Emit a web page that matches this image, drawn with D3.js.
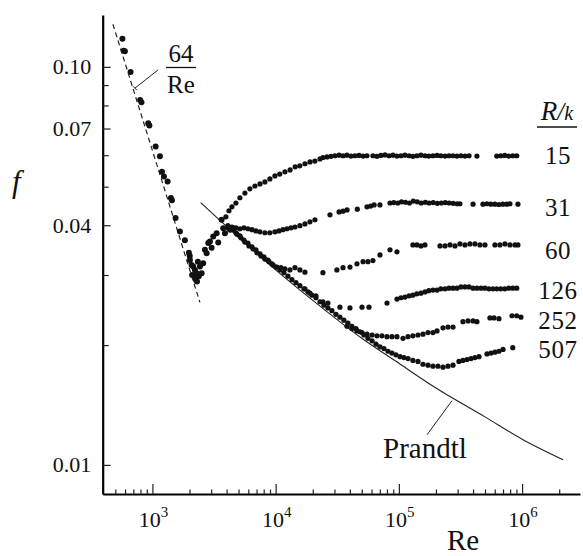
<!DOCTYPE html>
<html>
<head>
<meta charset="utf-8">
<script src="https://cdn.jsdelivr.net/npm/d3@7"></script>
<style>
  body { margin: 0; background: #fff; }
  svg text { font-family: "Liberation Serif", "Times New Roman", serif; fill: #111; }
</style>
</head>
<body>
<svg width="583" height="556"></svg>
<script>
// Nikuradse: friction factor f vs Re for rough pipes, R/k = 15 ... 507
// points are [Re, f]

const laminar = [[571,0.1176],[585,0.1097],[598,0.1095],[665,0.0971],[795,0.0826],[815,0.0815],
  [925,0.0722],[945,0.0712],[1062,0.0631],[1151,0.0596],[1195,0.0545],[1240,0.0530],[1328,0.0515],
  [1413,0.0468],[1440,0.0462],[1542,0.0417],[1672,0.0386],[1835,0.0367],[1977,0.0341],[2010,0.0335],
  [2080,0.0318],[2254,0.0294]];

const transition = [[2015,0.0327],[2100,0.0300],[2142,0.0315],[2213,0.0309],[2285,0.0303],[2300,0.0289],
  [2254,0.0292],[2339,0.0324],[2380,0.0298],[2430,0.0315],[2508,0.0303],[2582,0.0321],[2667,0.0347],
  [2755,0.0340],[2838,0.0361],[2929,0.0364],[3023,0.0351],[3115,0.0375],[3321,0.0382],[3420,0.0362],
  [3646,0.0413],[3755,0.0393],[3878,0.0382],[4256,0.0390],[4530,0.0393]];

const rk15 = [[3950,0.0420],[4180,0.0435],[4420,0.0445],[4760,0.0455],[5130,0.0469],[5630,0.0482],
  [6180,0.0494],[6790,0.0502],[7460,0.0508],[8180,0.0514],[8980,0.0523],[9870,0.0532],[10800,0.0538],
  [11900,0.0545],[13100,0.0551],[14400,0.0561],[15700,0.0564],[17300,0.0571],[19000,0.0577],
  [20800,0.0580],[22900,0.0587],[24200,0.0592],[26100,0.0594],[28100,0.0596],[30300,0.0598],
  [32700,0.0600],[35200,0.0598],[37900,0.0600],[40900,0.0597],[44000,0.0598],[47500,0.0599],
  [51200,0.0597],[55100,0.0598],[61600,0.0598],[66400,0.0596],[71500,0.0599],[77100,0.0601],
  [83100,0.0598],[89500,0.0600],[96500,0.0597],[104000,0.0598],[112000,0.0600],[121000,0.0598],
  [130000,0.0596],[140000,0.0598],[151000,0.0600],[163000,0.0598],[175000,0.0597],[189000,0.0598],
  [204000,0.0599],[219000,0.0598],[237000,0.0597],[255000,0.0598],[275000,0.0598],[296000,0.0597],
  [319000,0.0598],[344000,0.0597],[371000,0.0598],[430000,0.0597],[623000,0.0597],[671000,0.0598],
  [723000,0.0599],[779000,0.0597],[840000,0.0598],[905000,0.0598]];

const rk31 = [[4100,0.0399],[4420,0.0396],[4760,0.0394],[5130,0.0392],[5530,0.0394],[5960,0.0392],
  [6420,0.0390],[6920,0.0387],[7460,0.0385],[8180,0.0383],[8980,0.0383],[9870,0.0385],[10640,0.0387],
  [11470,0.0390],[12350,0.0392],[13310,0.0394],[14350,0.0396],[15740,0.0399],[17290,0.0403],
  [18980,0.0408],[20840,0.0413],[27600,0.0425],[32700,0.0432],[35200,0.0434],[38000,0.0437],
  [46000,0.0439],[55100,0.0445],[59000,0.0447],[63000,0.0450],[70240,0.0450],[84700,0.0455],
  [91000,0.0456],[98000,0.0455],[105000,0.0458],[113000,0.0457],[122000,0.0455],[131000,0.0460],
  [141000,0.0458],[152000,0.0455],[164000,0.0457],[176000,0.0455],[190000,0.0456],[205000,0.0454],
  [221000,0.0455],[238000,0.0456],[256000,0.0455],[276000,0.0454],[297000,0.0453],[313000,0.0453],
  [400000,0.0452],[481000,0.0452],[518000,0.0453],[558000,0.0452],[601000,0.0452],[648000,0.0451],
  [698000,0.0452],[752000,0.0452],[797000,0.0453],[925000,0.0452]];

const rk60 = [[4502,0.0390],[4852,0.0380],[5228,0.0372],[5633,0.0363],[6071,0.0355],[6542,0.0349],
  [7050,0.0341],[7599,0.0335],[8183,0.0329],[8823,0.0324],[9506,0.0318],[10240,0.0314],[11040,0.0313],
  [11900,0.0311],[13060,0.0309],[14350,0.0313],[15740,0.0309],[17290,0.0305],[24200,0.0304],
  [31400,0.0309],[35200,0.0313],[40100,0.0314],[45700,0.0320],[51200,0.0324],[56100,0.0324],
  [61600,0.0326],[70240,0.0337],[84700,0.0347],[96500,0.0343],[130000,0.0357],[140000,0.0357],
  [151000,0.0355],[162800,0.0357],[215600,0.0355],[236700,0.0355],[259900,0.0357],[285300,0.0355],
  [313100,0.0359],[343800,0.0357],[377500,0.0359],[414400,0.0359],[454900,0.0357],[499500,0.0357],
  [602000,0.0357],[661000,0.0357],[726000,0.0359],[797000,0.0357],[875000,0.0357],[925000,0.0357]];

const rk126 = [[17290,0.0277],[18980,0.0270],[21240,0.0266],[24200,0.0257],[26570,0.0255],
  [33260,0.0249],[40100,0.0248],[50200,0.0249],[57200,0.0249],[80100,0.0255],[96500,0.0261],
  [104000,0.0263],[112100,0.0264],[121000,0.0266],[130000,0.0267],[140000,0.0269],[151000,0.0270],
  [162800,0.0272],[175000,0.0274],[189000,0.0275],[204000,0.0275],[219000,0.0277],[237000,0.0277],
  [255000,0.0278],[275000,0.0278],[296000,0.0278],[319000,0.0280],[344000,0.0280],[371000,0.0280],
  [400000,0.0278],[430000,0.0278],[464000,0.0278],[499500,0.0278],[538000,0.0277],[580000,0.0277],
  [623000,0.0277],[671000,0.0277],[723000,0.0277],[779000,0.0278],[840000,0.0278],[905000,0.0278]];

const rk252 = [[37900,0.0223],[41600,0.0220],[45700,0.0217],[50200,0.0215],[55100,0.0213],
  [60600,0.0212],[66400,0.0211],[72900,0.0211],[80100,0.0210],[87900,0.0210],[96500,0.0210],
  [108000,0.0208],[118600,0.0210],[130000,0.0211],[142900,0.0212],[156900,0.0213],[172300,0.0215],
  [189000,0.0215],[204000,0.0217],[228000,0.0221],[250300,0.0222],[275000,0.0222],[331000,0.0229],
  [364000,0.0230],[400000,0.0230],[430000,0.0229],[548300,0.0234],[592000,0.0234],[649000,0.0233],
  [828000,0.0237],[905000,0.0237],[979000,0.0235]];

const rk507 = [[4100,0.0394],[4420,0.0390],[4760,0.0383],[5130,0.0376],[5530,0.0367],[5960,0.0361],
  [6420,0.0353],[6920,0.0347],[7460,0.0339],[8030,0.0333],[8660,0.0327],[9330,0.0320],[10060,0.0314],
  [10840,0.0309],[11680,0.0304],[12590,0.0298],[13560,0.0292],[14620,0.0287],[15740,0.0282],
  [16970,0.0277],[18280,0.0272],[19700,0.0267],[21240,0.0263],[22890,0.0257],[24660,0.0252],
  [26570,0.0248],[28640,0.0244],[30830,0.0239],[33260,0.0235],[35800,0.0231],[38600,0.0227],
  [41600,0.0223],[44850,0.0220],[48330,0.0216],[52090,0.0212],[56100,0.0208],[60600,0.0205],
  [65200,0.0201],[70240,0.0198],[75700,0.0196],[81600,0.0193],[87900,0.0191],[94700,0.0189],
  [102100,0.0187],[110000,0.0186],[118600,0.0185],[130000,0.0183],[142900,0.0182],[156900,0.0179],
  [172300,0.0178],[189000,0.0177],[207500,0.0177],[228000,0.0176],[250300,0.0177],[275000,0.0178],
  [307000,0.0182],[331000,0.0183],[357000,0.0184],[385000,0.0185],[414400,0.0186],[447000,0.0187],
  [519000,0.0190],[559000,0.0191],[602000,0.0192],[649000,0.0193],[700000,0.0195],[840000,0.0197]];

// reference curves
const laminarLine = [[478,0.128],[2430,0.0256]];
const prandtl = [[2460,0.0456],[5000,0.0373],[10000,0.0309],[20000,0.0259],[50000,0.0208],
  [100000,0.0180],[200000,0.0156],[500000,0.0132],[1000000,0.0116],[2150000,0.0103]];

const rkNames = ["15", "31", "60", "126", "252", "507"];

const xMajor = [1e3, 1e4, 1e5, 1e6];
const xExp = ["3", "4", "5", "6"];
const xMinor = [500,600,700,800,900, 2e3,3e3,4e3,5e3,6e3,7e3,8e3,9e3,
  2e4,3e4,4e4,5e4,6e4,7e4,8e4,9e4, 2e5,3e5,4e5,5e5,6e5,7e5,8e5,9e5, 2e6];
const yMajor = [0.01, 0.04, 0.07, 0.10];
const yMinor = [0.02, 0.03, 0.05, 0.06, 0.08, 0.09];

let svg = d3.select("svg");

let x = d3.scaleLog().domain([395, 2.95e6]).range([102.7, 580]);
let y = d3.scaleLog().domain([0.00845, 0.135]).range([494, 15]);

// x axis (ticks point up into the plot)
let gx = svg.append("g").attr("transform", "translate(0,494)");
gx.call(d3.axisBottom(x).tickValues(xMinor).tickSizeInner(-4.5).tickSizeOuter(0).tickFormat(""));
gx.append("g").call(d3.axisBottom(x).tickValues(xMajor).tickSizeInner(-10).tickSizeOuter(0).tickFormat(""))
  .select(".domain").remove();
gx.select(".domain").attr("stroke-width", 2.2);
gx.selectAll(".tick line").attr("stroke", "#222").attr("stroke-width", 1.2);

let xl = svg.append("g").selectAll("text").data(xMajor).enter().append("text")
  .attr("x", d => x(d) + 1)
  .attr("y", 527)
  .attr("text-anchor", "middle")
  .style("font-size", "22px");
xl.append("tspan").text("10");
xl.append("tspan").attr("dy", -10).style("font-size", "15px").text((d, i) => xExp[i]);

svg.append("text").attr("x", 447).attr("y", 550).style("font-size", "29px").text("Re");

// y axis (ticks point right)
let gy = svg.append("g").attr("transform", "translate(102.7,0)");
gy.call(d3.axisLeft(y).tickValues(yMajor).tickSizeInner(-8).tickSizeOuter(0).tickPadding(11.5)
  .tickFormat(d3.format(".2f")));
gy.append("g").call(d3.axisLeft(y).tickValues(yMinor).tickSizeInner(-6).tickSizeOuter(0).tickFormat(""))
  .select(".domain").remove();
gy.select(".domain").attr("stroke-width", 2.2);
gy.selectAll(".tick line").attr("stroke", "#222").attr("stroke-width", 1.2);
gy.selectAll(".tick text").style("font-size", "22px").attr("fill", "#111")
  .style("font-family", "'Liberation Serif', 'Times New Roman', serif");

svg.append("text").attr("x", 12).attr("y", 192)
  .style("font-size", "31px").style("font-style", "italic").text("f");

// 64/Re laminar line (dashed) and Prandtl smooth-pipe curve
let line = d3.line().x(d => x(d[0])).y(d => y(d[1]));

svg.append("path").datum(laminarLine)
  .attr("d", line)
  .attr("fill", "none").attr("stroke", "#222").attr("stroke-width", 1.2)
  .attr("stroke-dasharray", "5,3.5");

svg.append("path").datum(prandtl)
  .attr("d", line.curve(d3.curveMonotoneX))
  .attr("fill", "none").attr("stroke", "#222").attr("stroke-width", 1.1);

// data points
let allSeries = [laminar, transition, rk15, rk31, rk60, rk126, rk252, rk507];
allSeries.forEach((pts, i) => {
  svg.append("g").selectAll("circle").data(pts).enter().append("circle")
    .attr("cx", d => x(d[0]))
    .attr("cy", d => y(d[1]))
    .attr("r", i < 2 ? 3 : 2.6)
    .attr("fill", "#111");
});

// annotations
svg.append("line")
  .attr("x1", x(721)).attr("y1", y(0.0884)).attr("x2", x(1114)).attr("y2", y(0.0983))
  .attr("stroke", "#222").attr("stroke-width", 1);
svg.append("line")
  .attr("x1", x(721) - 2).attr("y1", y(0.0884) - 2).attr("x2", x(721) + 2).attr("y2", y(0.0884) + 2)
  .attr("stroke", "#222").attr("stroke-width", 1);
svg.append("text").attr("x", 181).attr("y", 62).attr("text-anchor", "middle")
  .style("font-size", "25px").text("64");
svg.append("line").attr("x1", 166).attr("x2", 196).attr("y1", 67.5).attr("y2", 67.5)
  .attr("stroke", "#111").attr("stroke-width", 1.3);
svg.append("text").attr("x", 181).attr("y", 93).attr("text-anchor", "middle")
  .style("font-size", "25px").text("Re");

svg.append("line")
  .attr("x1", x(169000)).attr("y1", y(0.0119)).attr("x2", x(270000)).attr("y2", y(0.0145))
  .attr("stroke", "#222").attr("stroke-width", 1);
svg.append("text").attr("x", 383).attr("y", 458).style("font-size", "29px").text("Prandtl");

// R/k legend column
let hdr = svg.append("text").attr("x", 557).attr("y", 120).attr("text-anchor", "middle")
  .style("font-style", "italic");
hdr.append("tspan").style("font-size", "27px").text("R");
hdr.append("tspan").style("font-size", "25px").text("/");
hdr.append("tspan").style("font-size", "20px").text("k");
svg.append("line").attr("x1", 537).attr("x2", 577).attr("y1", 127).attr("y2", 127)
  .attr("stroke", "#111").attr("stroke-width", 1.3);

const labelBase = [164, 216, 259, 299, 329, 358];
svg.append("g").selectAll("text").data(rkNames).enter().append("text")
  .attr("x", 558)
  .attr("y", (d, i) => labelBase[i])
  .attr("text-anchor", "middle")
  .style("font-size", "25px")
  .style("letter-spacing", "0.6px")
  .text(d => d);
</script>
</body>
</html>
